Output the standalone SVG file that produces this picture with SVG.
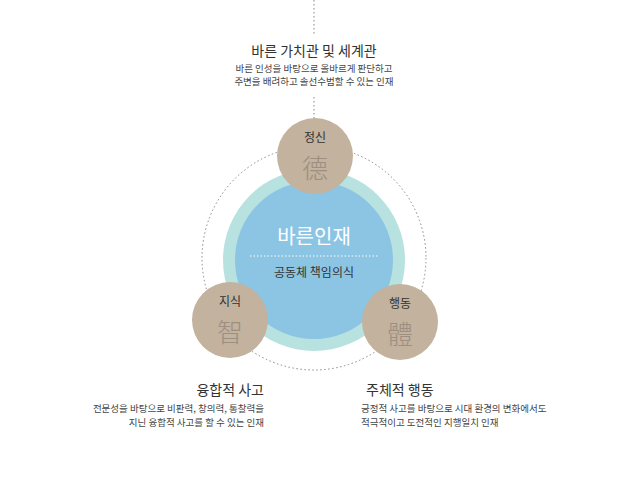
<svg xmlns="http://www.w3.org/2000/svg" width="623" height="500" viewBox="0 0 623 500">
<style>
text{font-family:"Noto Sans CJK KR","Noto Sans",sans-serif;text-anchor:middle}
.h{font-size:14px;fill:#333}
.d{font-size:9.5px;fill:#444}
.n{fill:#c2b29e}
.nl{font-size:12px;fill:#333}
.nc{font-size:26px;fill:#9c8f80;font-weight:300}
.dot{fill:none;stroke:#888;stroke-width:1;stroke-dasharray:1.5 2.5}
</style>
<rect width="623" height="500" fill="#fff"/>
<g id="connectors">
<line class="dot" x1="314" y1="0" x2="314" y2="35"/>
<line class="dot" x1="314" y1="97" x2="314" y2="118"/>
<circle class="dot" cx="314" cy="258" r="112"/>
</g>
<g id="center">
<circle cx="314" cy="260" r="91" fill="#b7e2e0"/>
<circle cx="314" cy="260" r="79" fill="#8cc4e4"/>
<text x="314" y="244" style="font-size:20px;fill:#fff">바른인재</text>
<line x1="250" y1="256" x2="378" y2="256" stroke="#fff" stroke-dasharray="1.5 2"/>
<text x="314" y="277" style="font-size:12px;fill:#333">공동체 책임의식</text>
</g>
<g id="top-node">
<circle class="n" cx="315" cy="156" r="38"/>
<text class="nl" x="315" y="142">정신</text>
<text class="nc" x="315" y="178">德</text>
</g>
<g id="left-node">
<circle class="n" cx="230" cy="320" r="38"/>
<text class="nl" x="230" y="306">지식</text>
<text class="nc" x="230" y="342">智</text>
</g>
<g id="right-node">
<circle class="n" cx="400" cy="322" r="38"/>
<text class="nl" x="400" y="308">행동</text>
<text class="nc" x="400" y="344">體</text>
</g>
<g id="top-text">
<text class="h" x="314" y="56">바른 가치관 및 세계관</text>
<text class="d" x="314" y="72">바른 인성을 바탕으로 올바르게 판단하고</text>
<text class="d" x="314" y="85">주변을 배려하고 솔선수범할 수 있는 인재</text>
</g>
<g id="left-text">
<text class="h" x="264" y="395" style="text-anchor:end">융합적 사고</text>
<text class="d" x="264" y="412" style="text-anchor:end">전문성을 바탕으로 비판력, 창의력, 통찰력을</text>
<text class="d" x="264" y="426" style="text-anchor:end">지닌 융합적 사고를 할 수 있는 인재</text>
</g>
<g id="right-text">
<text class="h" x="366" y="395" style="text-anchor:start">주체적 행동</text>
<text class="d" x="361" y="412" style="text-anchor:start">긍정적 사고를 바탕으로 시대 환경의 변화에서도</text>
<text class="d" x="361" y="426" style="text-anchor:start">적극적이고 도전적인 지행일치 인재</text>
</g>
</svg>
